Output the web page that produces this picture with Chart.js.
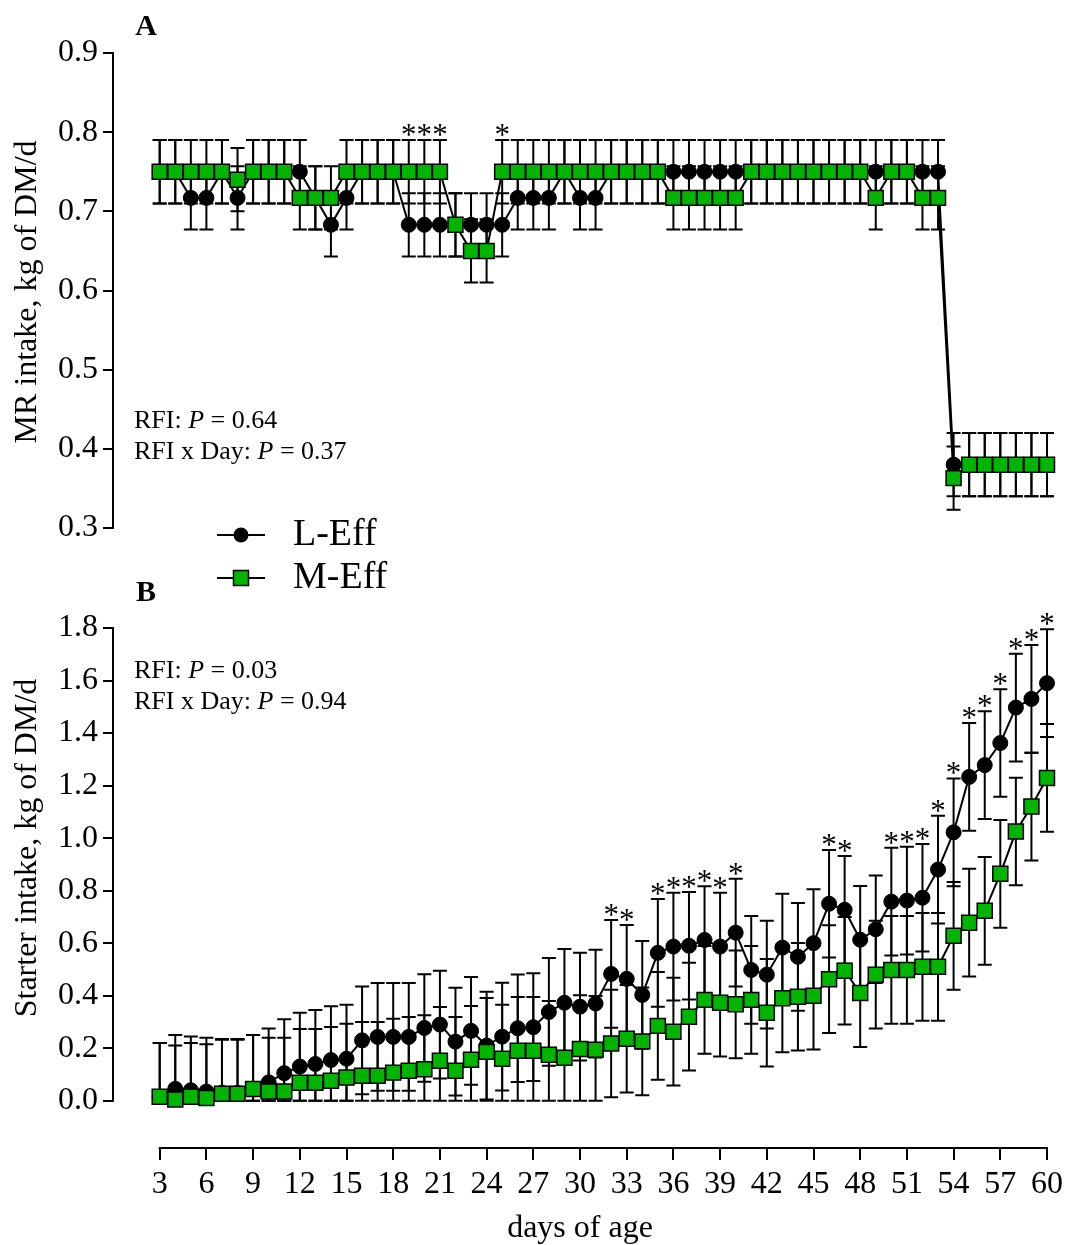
<!DOCTYPE html>
<html>
<head>
<meta charset="utf-8">
<script src="https://cdn.jsdelivr.net/npm/chart.js@4.4.1/dist/chart.umd.min.js"></script>
<style>
  html, body { margin: 0; padding: 0; background: #fff; }
  #wrap { position: relative; width: 1065px; height: 1245px; background: #fff; overflow: hidden; }
  canvas { position: absolute; left: 0; }
  #cA { top: 0; }
  #cB { top: 560px; }
</style>
</head>
<body>
<div id="wrap">
  <canvas id="cA" width="1065" height="600"></canvas>
  <canvas id="cB" width="1065" height="685"></canvas>
</div>
<script>
// ---------- data ----------
const days = [3,4,5,6,7,8,9,10,11,12,13,14,15,16,17,18,19,20,21,22,23,24,25,26,27,28,29,30,31,32,33,34,35,36,37,38,39,40,41,42,43,44,45,46,47,48,49,50,51,52,53,54,55,56,57,58,59,60];

// Panel A: MR intake (kg of DM/d)
const mrL = [0.75,0.75,0.717,0.717,0.75,0.717,0.75,0.75,0.75,0.75,0.717,0.683,0.717,0.75,0.75,0.75,0.683,0.683,0.683,0.683,0.683,0.683,0.683,0.717,0.717,0.717,0.75,0.717,0.717,0.75,0.75,0.75,0.75,0.75,0.75,0.75,0.75,0.75,0.75,0.75,0.75,0.75,0.75,0.75,0.75,0.75,0.75,0.75,0.75,0.75,0.75,0.38,0.38,0.38,0.38,0.38,0.38,0.38];
const mrM = [0.75,0.75,0.75,0.75,0.75,0.74,0.75,0.75,0.75,0.717,0.717,0.717,0.75,0.75,0.75,0.75,0.75,0.75,0.75,0.683,0.65,0.65,0.75,0.75,0.75,0.75,0.75,0.75,0.75,0.75,0.75,0.75,0.75,0.717,0.717,0.717,0.717,0.717,0.75,0.75,0.75,0.75,0.75,0.75,0.75,0.75,0.717,0.75,0.75,0.717,0.717,0.363,0.38,0.38,0.38,0.38,0.38,0.38];
const mrSE = 0.04;
const mrSig = [19,20,21,25];
const mrTicks = [0.3,0.4,0.5,0.6,0.7,0.8,0.9];

// Panel B: Starter intake (kg of DM/d)
const stL = [0.015,0.045,0.04,0.035,0.03,0.03,0.045,0.07,0.105,0.13,0.14,0.155,0.16,0.23,0.243,0.243,0.243,0.277,0.29,0.225,0.266,0.21,0.244,0.276,0.28,0.338,0.373,0.358,0.37,0.483,0.464,0.403,0.563,0.587,0.59,0.612,0.587,0.64,0.498,0.48,0.583,0.548,0.6,0.75,0.727,0.613,0.653,0.758,0.762,0.773,0.88,1.022,1.233,1.278,1.362,1.497,1.53,1.59];
const stM = [0.015,0.005,0.015,0.01,0.027,0.027,0.045,0.035,0.035,0.068,0.068,0.076,0.088,0.095,0.095,0.107,0.114,0.12,0.152,0.114,0.156,0.186,0.16,0.19,0.19,0.175,0.164,0.197,0.194,0.218,0.236,0.226,0.285,0.263,0.32,0.384,0.373,0.367,0.384,0.335,0.39,0.396,0.4,0.463,0.495,0.41,0.48,0.498,0.498,0.51,0.51,0.628,0.678,0.723,0.864,1.025,1.12,1.229];
const stSE = 0.205;
const stSig = [32,33,35,36,37,38,39,40,46,47,50,51,52,53,54,55,56,57,58,59,60];
const stTicks = [0.0,0.2,0.4,0.6,0.8,1.0,1.2,1.4,1.6,1.8];

const dayTicks = [3,6,9,12,15,18,21,24,27,30,33,36,39,42,45,48,51,54,57,60];

const seriesNames = ['L-Eff', 'M-Eff'];
const statsA = [['RFI: ', '0.64'], ['RFI x Day: ', '0.37']];
const statsB = [['RFI: ', '0.03'], ['RFI x Day: ', '0.94']];

// ---------- styling ----------
const FONT = "'Liberation Serif', 'Times New Roman', Times, serif";
const GREEN = '#00b400';
Chart.defaults.font.family = FONT;
Chart.defaults.color = '#000';

const pts = (arr) => days.map((d, i) => ({ x: d, y: arr[i] }));

// error bars + significance stars
const errorBars = {
  id: 'errorBars',
  beforeDatasetsDraw(chart, args, opts) {
    const { ctx, scales: { x, y } } = chart;
    ctx.save();
    ctx.strokeStyle = '#000';
    ctx.lineWidth = 2;
    chart.data.datasets.forEach(ds => {
      ds.data.forEach(p => {
        const px = x.getPixelForValue(p.x);
        const hi = y.getPixelForValue(p.y + ds.se);
        const lo = y.getPixelForValue(Math.max(opts.floor, p.y - ds.se));
        ctx.beginPath();
        ctx.moveTo(px, hi); ctx.lineTo(px, lo);
        ctx.moveTo(px - 7, hi); ctx.lineTo(px + 7, hi);
        ctx.moveTo(px - 7, lo); ctx.lineTo(px + 7, lo);
        ctx.stroke();
      });
    });
    ctx.restore();
  },
  afterDatasetsDraw(chart, args, opts) {
    const { ctx, scales: { x, y } } = chart;
    ctx.save();
    ctx.fillStyle = '#000';
    ctx.font = '31px ' + FONT;
    ctx.textAlign = 'center';
    ctx.textBaseline = 'alphabetic';
    (opts.sig || []).forEach(d => {
      let top = -Infinity;
      chart.data.datasets.forEach(ds => {
        const p = ds.data.find(q => q.x === d);
        if (p) top = Math.max(top, p.y + ds.se);
      });
      const px = x.getPixelForValue(d);
      const py = y.getPixelForValue(top);
      ctx.fillText('*', px, py + 5);
    });
    ctx.restore();
  }
};

// detached axis lines
const axisLines = {
  id: 'axisLines',
  beforeDatasetsDraw(chart, args, opts) {
    const { ctx, chartArea, scales: { x, y } } = chart;
    ctx.save();
    ctx.strokeStyle = '#000';
    ctx.lineWidth = 2;
    ctx.beginPath();
    ctx.moveTo(chartArea.left, y.getPixelForValue(opts.yFrom) + 1);
    ctx.lineTo(chartArea.left, y.getPixelForValue(opts.yTo) - 1);
    if (opts.showX) {
      ctx.moveTo(x.getPixelForValue(opts.xFrom) - 1, chartArea.bottom);
      ctx.lineTo(x.getPixelForValue(opts.xTo) + 1, chartArea.bottom);
    }
    ctx.stroke();
    ctx.restore();
  }
};

// texts: panel letter, y title, stats, legend
const annot = {
  id: 'annot',
  afterDraw(chart, args, opts) {
    const { ctx } = chart;
    ctx.save();
    ctx.fillStyle = '#000';
    ctx.textBaseline = 'middle';
    // panel letter
    ctx.font = 'bold 30px ' + FONT;
    ctx.textAlign = 'center';
    ctx.fillText(opts.letter, opts.letterX, opts.letterY);
    // y title
    ctx.save();
    ctx.translate(opts.titleX, opts.titleY);
    ctx.rotate(-Math.PI / 2);
    ctx.font = '32px ' + FONT;
    ctx.textAlign = 'center';
    ctx.fillText(opts.title, 0, 0);
    ctx.restore();
    // stats
    ctx.textAlign = 'left';
    opts.stats.forEach((s, i) => {
      let xx = opts.statX;
      const yy = opts.statY[i];
      ctx.font = '26px ' + FONT;
      ctx.fillText(s[0], xx, yy); xx += ctx.measureText(s[0]).width;
      ctx.font = 'italic 26px ' + FONT;
      ctx.fillText('P', xx, yy); xx += ctx.measureText('P').width;
      ctx.font = '26px ' + FONT;
      ctx.fillText(' = ' + s[1], xx, yy);
    });
    // legend
    if (opts.legend) {
      const L = opts.legend;
      ctx.strokeStyle = '#000';
      ctx.lineWidth = 2;
      L.rows.forEach((r, i) => {
        const yy = L.y[i];
        ctx.beginPath();
        ctx.moveTo(L.x1, yy); ctx.lineTo(L.x2, yy);
        ctx.stroke();
        const cx = (L.x1 + L.x2) / 2;
        if (i === 0) {
          ctx.beginPath();
          ctx.arc(cx, yy, 7.5, 0, Math.PI * 2);
          ctx.fillStyle = '#000';
          ctx.fill();
        } else {
          ctx.fillStyle = GREEN;
          ctx.fillRect(cx - 7.5, yy - 7.5, 15, 15);
          ctx.lineWidth = 1.5;
          ctx.strokeRect(cx - 7.5, yy - 7.5, 15, 15);
          ctx.lineWidth = 2;
        }
        ctx.fillStyle = '#000';
        ctx.font = '38px ' + FONT;
        ctx.fillText(r, L.tx, yy);
      });
    }
    ctx.restore();
  }
};

function datasets(lArr, mArr, se) {
  return [
    {
      label: seriesNames[0], data: pts(lArr), se: se,
      borderColor: '#000', borderWidth: 2, tension: 0,
      pointStyle: 'circle', pointRadius: 7.5,
      pointBackgroundColor: '#000', pointBorderColor: '#000', pointBorderWidth: 1,
      order: 1, clip: false
    },
    {
      label: seriesNames[1], data: pts(mArr), se: se,
      borderColor: '#000', borderWidth: 2, tension: 0,
      pointStyle: 'rect', pointRadius: 10.6,
      pointBackgroundColor: GREEN, pointBorderColor: '#000', pointBorderWidth: 1.5,
      order: 0, clip: false
    }
  ];
}

function yScale(min, max, tickArr) {
  return {
    type: 'linear', min: min, max: max,
    afterFit(s) { s.width = 113; s.paddingTop = 0; s.paddingBottom = 0; },
    afterBuildTicks(s) { s.ticks = tickArr.map(v => ({ value: v })); },
    ticks: { callback: v => Number(v).toFixed(1), font: { size: 32, lineHeight: 1 }, color: '#000', padding: 5 },
    grid: { display: true, drawOnChartArea: false, drawTicks: true, tickLength: 10, color: '#000', lineWidth: 2 },
    border: { display: false },
    title: { display: false }
  };
}

// ---------- Panel A ----------
new Chart(document.getElementById('cA'), {
  type: 'line',
  data: { datasets: datasets(mrL, mrM, mrSE) },
  options: {
    responsive: false, animation: false, devicePixelRatio: 1,
    layout: { padding: { left: 0, right: 18, top: 53, bottom: 72 } },
    plugins: {
      legend: { display: false }, tooltip: { enabled: false },
      errorBars: { floor: -Infinity, sig: mrSig },
      axisLines: { yFrom: 0.3, yTo: 0.9, showX: false },
      annot: {
        letter: 'A', letterX: 146, letterY: 27,
        title: 'MR intake, kg of DM/d', titleX: 28, titleY: 292,
        stats: statsA, statX: 134, statY: [421, 452],
        legend: { rows: seriesNames, x1: 217, x2: 265, tx: 293, y: [535, 578] }
      }
    },
    scales: {
      x: { type: 'linear', min: 0, max: 60, display: false },
      y: yScale(0.3, 0.9, mrTicks)
    }
  },
  plugins: [axisLines, errorBars, annot]
});

// ---------- Panel B ----------
new Chart(document.getElementById('cB'), {
  type: 'line',
  data: { datasets: datasets(stL, stM, stSE) },
  options: {
    responsive: false, animation: false, devicePixelRatio: 1,
    layout: { padding: { left: 0, right: 18, top: 68, bottom: 0 } },
    plugins: {
      legend: { display: false }, tooltip: { enabled: false },
      errorBars: { floor: 0, sig: stSig },
      axisLines: { yFrom: 0, yTo: 1.8, showX: true, xFrom: 3, xTo: 60 },
      annot: {
        letter: 'B', letterX: 146, letterY: 33,
        title: 'Starter intake, kg of DM/d', titleX: 28, titleY: 288,
        stats: statsB, statX: 134, statY: [111, 142]
      }
    },
    scales: {
      x: {
        type: 'linear', min: 0, max: 60,
        afterFit(s) { s.height = 97; s.paddingLeft = 0; s.paddingRight = 0; },
        afterBuildTicks(s) { s.ticks = dayTicks.map(v => ({ value: v })); },
        ticks: { autoSkip: false, maxRotation: 0, font: { size: 32, lineHeight: 1 }, color: '#000', padding: 9 },
        grid: { display: true, drawOnChartArea: false, drawTicks: true, tickLength: 12, color: '#000', lineWidth: 2 },
        border: { display: false },
        title: { display: true, text: 'days of age', font: { size: 32, lineHeight: 1 }, color: '#000', padding: { top: 0, bottom: 0 } }
      },
      y: yScale(-0.18, 1.8, stTicks)
    }
  },
  plugins: [axisLines, errorBars, annot]
});
</script>
</body>
</html>
